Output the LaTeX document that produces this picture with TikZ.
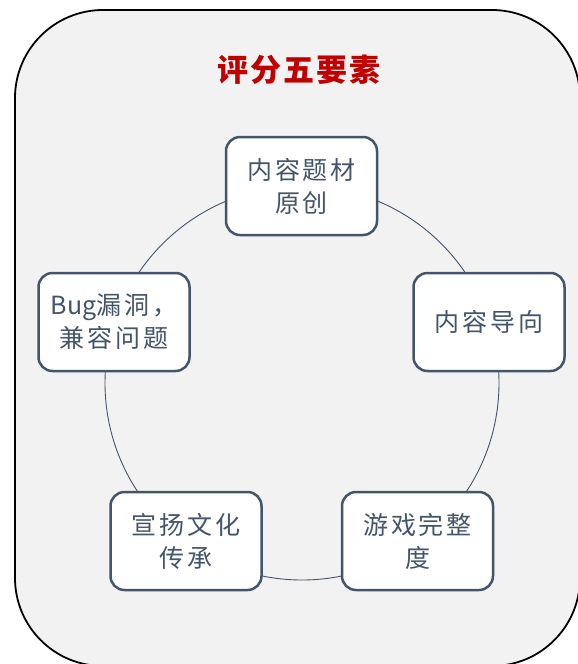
\documentclass[tikz,border=0pt]{standalone}
\usepackage{fontspec}
\newfontfamily\cjk{Noto Sans CJK SC}[LetterSpace=11]
\newfontfamily\cjklat{Noto Sans CJK SC}
\newfontfamily\cjkt{Noto Sans CJK SC}[LetterSpace=7]
\definecolor{boxc}{HTML}{44546A}
\definecolor{bgc}{HTML}{F2F2F2}
\definecolor{ttl}{HTML}{C00000}
\tikzset{
  item/.style={draw=boxc, fill=white, line width=2.5pt, rounded corners=14pt,
    minimum width=151pt, minimum height=98pt, inner sep=0pt, align=center,
    text=boxc, font=\cjk\fontsize{25}{33}\selectfont},
  ring/.style={draw=boxc, line width=0.9pt},
  frame/.style={draw=black, line width=1.8pt, fill=bgc, rounded corners=88pt}
}
\begin{document}
\begin{tikzpicture}[x=1pt,y=-1pt]
\useasboundingbox (0,0) rectangle (578,664);
\clip (0,0) rectangle (578,664);
\draw[frame] (15,10) rectangle (580,666);
\node[text=ttl, font=\cjkt\bfseries\fontsize{31}{33}\selectfont] (title) at (299,70) {评分五要素};
\coordinate (c) at (302,383);
\draw[ring] (c) circle[radius=197pt];
\node[item] (top) at (301.5,186) {内容题材\\原创};
\node[item] (right) at (489,322) {内容导向};
\node[item] (br) at (417.5,541) {游戏完整\\度};
\node[item] (bl) at (186,541) {宣扬文化\\传承};
\node[item] (left) at (114,322) {{\cjklat Bug}漏洞，\\兼容问题};
\end{tikzpicture}
\end{document}
